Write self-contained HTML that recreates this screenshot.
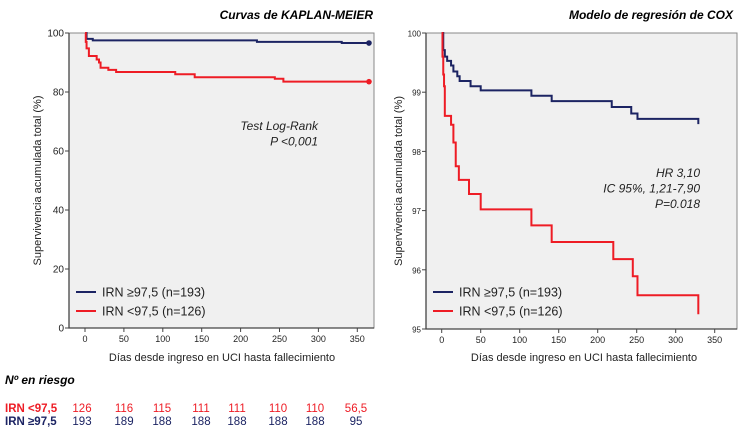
<!DOCTYPE html>
<html><head><meta charset="utf-8"><style>
body{margin:0;background:#fff;font-family:"Liberation Sans",sans-serif}
svg{display:block}
</style></head><body>
<svg id="s" width="750" height="432" xmlns="http://www.w3.org/2000/svg" font-family="Liberation Sans, sans-serif">
<text x="373" y="19" text-anchor="end" font-size="12" font-weight="bold" font-style="italic">Curvas de KAPLAN-MEIER</text>
<text x="733" y="19" text-anchor="end" font-size="12" font-weight="bold" font-style="italic">Modelo de regresión de COX</text>
<g id="left"></g>
<g id="right"></g>
<text x="5" y="384" font-size="12" font-weight="bold" font-style="italic">Nº en riesgo</text>
<g id="risk"></g>
</svg>
<script>
const NS="http://www.w3.org/2000/svg";
const kmBlueT=[0,2,10,221,330,365];
const kmBlueV=[100,98,97.5,97,96.6,96.6];
const kmRedT=[0,1,2,5,15,18,20,30,40,116,141,244,255,365];
const kmRedV=[100,97,94.8,92.2,91,90,88.2,87.5,86.8,86,85,84.5,83.5,83.5];
const coxBlueT=[0,2,4,7,12,15,20,23,37,50,115,141,218,243,251,329];
const coxBlueV=[100,99.71,99.6,99.53,99.45,99.35,99.27,99.19,99.1,99.03,98.94,98.85,98.75,98.64,98.55,98.46];
const coxRedT=[0,1,2,3,4,12,15,18,22,35,50,115,141,220,245,251,329];
const coxRedV=[100,99.6,99.3,99.1,98.6,98.45,98.15,97.75,97.52,97.28,97.02,96.75,96.47,96.18,95.89,95.57,95.25];
const xTicks=[0,50,100,150,200,250,300,350];
const kmYTicks=[0,20,40,60,80,100];
const coxYTicks=[95,96,97,98,99,100];
const riskDays=[0,50,100,150,200,250,300,350];
const riskRed=["126","116","115","111","111","110","110","56,5"];
const riskBlue=["193","189","188","188","188","188","188","95"];
const BLUE="#1c2463",RED="#ee1c25";
function el(p,t,a,txt){const e=document.createElementNS(NS,t);for(const k in a)e.setAttribute(k,a[k]);if(txt!=null)e.textContent=txt;p.appendChild(e);return e;}
function chart(g,o){
 const X=d=>o.x0+d*o.xs, Y=v=>o.top+(o.ymax-v)/(o.ymax-o.ymin)*(o.bot-o.top);
 const bg=el(g,'rect',{x:o.L,y:o.top,width:o.R-o.L,height:o.bot-o.top,fill:'#f0f0f0',stroke:'#888','stroke-width':1});
 
 const ax=el(g,'path',{d:`M${o.L} ${o.top}V${o.bot}H${o.R}`,stroke:'#444','stroke-width':1.3,fill:'none'});
 
 o.yt.forEach(v=>{const y=Y(v);el(g,'line',{x1:o.L-4,x2:o.L,y1:y,y2:y,stroke:'#444'});
  const t=el(g,'text',{x:o.L-5,y:y+3.5,'text-anchor':'end','font-size':o.yfs,fill:'#222'},String(v));
  });
 xTicks.forEach(d=>{const x=X(d);el(g,'line',{x1:x,x2:x,y1:o.bot,y2:o.bot+4,stroke:'#444'});
  const t=el(g,'text',{x:x,y:o.bot+14,'text-anchor':'middle','font-size':9,fill:'#222'},String(d));
  });
 function series(T,V,c,nm,dot){let d=`M${X(T[0])} ${Y(V[0])}`;
  for(let i=1;i<T.length;i++){d+=`H${X(T[i])}V${Y(V[i])}`;}
  const p=el(g,'path',{d:d,stroke:c,'stroke-width':2,fill:'none'});
  
  if(dot){const cc=el(g,'circle',{cx:X(T[T.length-1]),cy:Y(V[V.length-1]),r:2.8,fill:c});
   }}
 series(o.bT,o.bV,BLUE,'series-irn-high',o.dot);
 series(o.rT,o.rV,RED,'series-irn-low',o.dot);
 [[BLUE,'IRN ≥97,5 (n=193)',292],[RED,'IRN <97,5 (n=126)',311]].forEach(a=>{
  el(g,'line',{x1:o.L+7,x2:o.L+27,y1:a[2],y2:a[2],stroke:a[0],'stroke-width':2});
  const t=el(g,'text',{x:o.L+33,y:a[2]+4.5,'font-size':12.5,fill:'#222'},a[1]);
  });
 const yt=el(g,'text',{x:0,y:0,'font-size':11,fill:'#222','text-anchor':'middle',transform:`translate(${o.ytx},${(o.top+o.bot)/2}) rotate(-90)`},'Supervivencia acumulada total (%)');
 
 const xt=el(g,'text',{x:o.xtx,y:361,'font-size':11,fill:'#222','text-anchor':'middle'},o.xtitle);
 
 o.ann.forEach((s,i)=>{const t=el(g,'text',{x:o.annx,y:o.anny+i*15.5,'font-size':12,'font-style':'italic','text-anchor':'end',fill:'#222'},s);
  });
}
chart(document.getElementById('left'),{L:69,R:374,top:33,bot:328,x0:85,xs:0.778,ymin:0,ymax:100,yt:kmYTicks,yfs:10,
 bT:kmBlueT,bV:kmBlueV,rT:kmRedT,rV:kmRedV,dot:true,ytx:41,xtx:222,xtitle:'Días desde ingreso en UCI hasta fallecimiento',
 ann:['Test Log-Rank','P <0,001'],annx:318,anny:130});
chart(document.getElementById('right'),{L:426,R:737,top:33,bot:329,x0:441.7,xs:0.78,ymin:95,ymax:100,yt:coxYTicks,yfs:8,
 bT:coxBlueT,bV:coxBlueV,rT:coxRedT,rV:coxRedV,dot:false,ytx:402,xtx:584,xtitle:'Días desde ingreso en  UCI hasta fallecimiento',
 ann:['HR 3,10','IC 95%, 1,21-7,90','P=0.018'],annx:700,anny:177});
const rk=document.getElementById('risk');
const rx=[82,124,162,201,237,278,315,356];
[[RED,'IRN <97,5',riskRed,412],[BLUE,'IRN ≥97,5',riskBlue,425]].forEach(r=>{
 const l=el(rk,'text',{x:5,y:r[3],'font-size':11.5,'font-weight':'bold',fill:r[0]},r[1]);
 
 r[2].forEach((v,i)=>{const t=el(rk,'text',{x:rx[i],y:r[3],'font-size':11.5,'text-anchor':'middle',fill:r[0]},v);
  });
});
</script>
</body></html>
